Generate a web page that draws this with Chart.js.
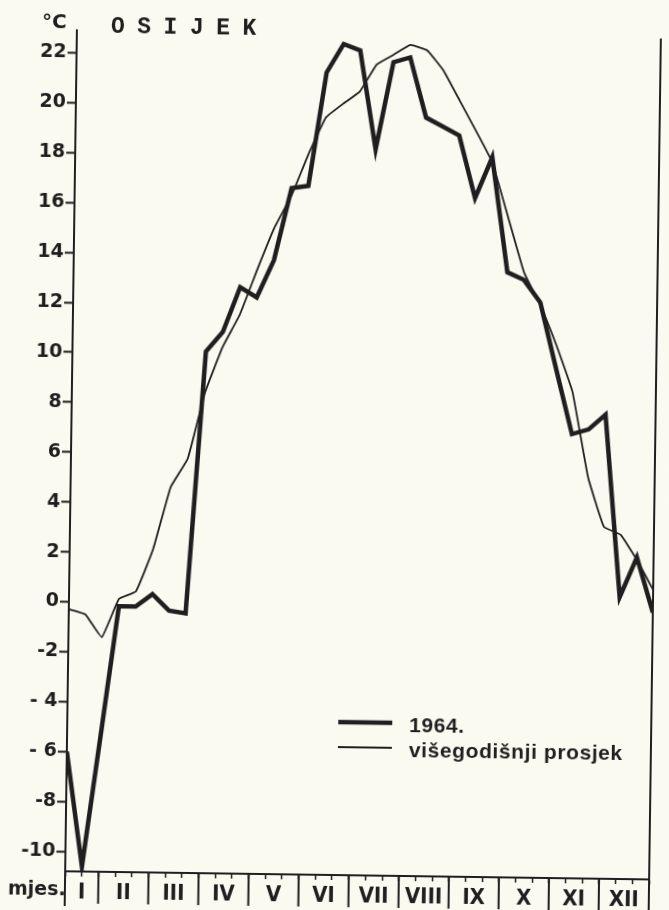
<!DOCTYPE html>
<html>
<head>
<meta charset="utf-8">
<script src="https://cdn.jsdelivr.net/npm/chart.js@4/dist/chart.umd.min.js"></script>
<style>
  html, body { margin: 0; padding: 0; background: #fafaf1; overflow: hidden; }
  #wrap { width: 669px; height: 910px; transform: rotate(0.8deg); }
</style>
</head>
<body>
<div id="wrap"><canvas id="osijek"></canvas></div>
<script>
// dekade: 1 = kraj 1. dekade sijecnja ... 36 = kraj prosinca
var dekade = [1, 2, 3, 4, 5, 6, 7, 8, 9, 10, 11, 12, 13, 14, 15, 16, 17, 18,
              19, 20, 21, 22, 23, 24, 25, 26, 27, 28, 29, 30, 31, 32, 33, 34, 35, 36];

// srednja dekadna temperatura 1964.
var temp1964 = [-6.0, -10.6, -5.4, -0.15, -0.15, 0.35, -0.3, -0.4, 10.1, 10.9, 12.7, 12.3,
                13.8, 16.7, 16.8, 21.35, 22.5, 22.25, 18.3, 21.8, 22.0, 19.6, 19.25, 18.9,
                16.4, 18.05, 13.45, 13.15, 12.25, 9.6, 7.0, 7.2, 7.8, 0.5, 2.1, -0.1];

// visegodisnji prosjek
var prosjek = [-0.3, -0.5, -1.4, 0.15, 0.45, 2.15, 4.65, 5.8, 8.5, 10.3, 11.6, 13.4,
               15.1, 16.4, 18.1, 19.55, 20.1, 20.6, 21.7, 22.1, 22.5, 22.3, 21.5, 20.3,
               19.1, 17.85, 15.65, 13.45, 12.15, 10.55, 8.7, 5.3, 3.3, 3.0, 2.0, 0.8];

var mjeseci = ['I', 'II', 'III', 'IV', 'V', 'VI', 'VII', 'VIII', 'IX', 'X', 'XI', 'XII'];
var mjesecPoz = [2, 4.5, 7.5, 10.5, 13.5, 16.5, 19.5, 22.5, 25.5, 28.5, 31.5, 34.5];

var yTicks = [-10, -8, -6, -4, -2, 0, 2, 4, 6, 8, 10, 12, 14, 16, 18, 20, 22];
var yLabels = ['-10', '-8', '- 6', '- 4', '-2', '0', '2', '4', '6', '8', '10',
               '12', '14', '16', '18', '20', '22'];

var tinta = '#1f1f1f';
var papir = '#fafaf1';

var crtez = {
    id: 'crtez',
    beforeDraw: function (chart) {
        var ctx = chart.ctx;
        ctx.save();
        ctx.fillStyle = papir;
        ctx.fillRect(0, 0, chart.width, chart.height);
        ctx.restore();
    },
    afterDraw: function (chart) {
        var ctx = chart.ctx;
        var a = chart.chartArea;
        var x = chart.scales.x;
        ctx.save();
        ctx.strokeStyle = tinta;
        ctx.fillStyle = tinta;

        // okvir desno i produzetak osi dolje
        ctx.lineWidth = 2;
        ctx.beginPath();
        ctx.moveTo(a.right, a.top);
        ctx.lineTo(a.right, a.bottom + 35);
        ctx.moveTo(a.left, a.bottom);
        ctx.lineTo(a.left, a.bottom + 35);
        for (var m = 1; m < 12; m++) {
            var px = x.getPixelForValue(m * 3);
            ctx.moveTo(px, a.bottom);
            ctx.lineTo(px, a.bottom + 32);
        }
        ctx.stroke();

        // natpisi
        ctx.textBaseline = 'alphabetic';
        ctx.font = 'bold 20px "DejaVu Sans", sans-serif';
        ctx.fillText('°C', 36, 32);

        ctx.font = 'bold 23px "Liberation Mono", monospace';
        ctx.letterSpacing = '12.5px';
        ctx.fillText('OSIJEK', 105, 36);
        ctx.letterSpacing = '0px';

        ctx.font = 'bold 19px "DejaVu Sans", sans-serif';
        ctx.fillText('mjes.', 14, 899);

        // legenda
        var ds = chart.data.datasets;
        var lx = 342, ly = [722, 747];
        ctx.font = 'bold 21px "Liberation Sans", sans-serif';
        ctx.letterSpacing = '0.6px';
        for (var i = 0; i < ds.length; i++) {
            ctx.lineWidth = ds[i].borderWidth;
            ctx.beginPath();
            ctx.moveTo(lx, ly[i]);
            ctx.lineTo(lx + 54, ly[i]);
            ctx.stroke();
            ctx.fillText(ds[i].label, lx + 71, ly[i] + 9);
        }
        ctx.restore();
    }
};

new Chart(document.getElementById('osijek'), {
    type: 'line',
    data: {
        datasets: [
            {
                label: '1964.',
                data: dekade.map(function (d, i) { return { x: d, y: temp1964[i] }; }),
                borderColor: tinta,
                borderWidth: 4.5,
                pointRadius: 0,
                tension: 0
            },
            {
                label: 'višegodišnji prosjek',
                data: dekade.map(function (d, i) { return { x: d, y: prosjek[i] }; }),
                borderColor: tinta,
                borderWidth: 1.8,
                pointRadius: 0,
                tension: 0.1
            }
        ]
    },
    options: {
        responsive: true,
        maintainAspectRatio: false,
        animation: false,
        layout: { padding: { top: 34, right: 14, left: 0, bottom: 0 } },
        plugins: {
            legend: { display: false },
            tooltip: { enabled: false }
        },
        scales: {
            x: {
                type: 'linear',
                min: 1,
                max: 36,
                afterBuildTicks: function (scale) {
                    var v = dekade.concat(mjesecPoz.filter(function (p) { return dekade.indexOf(p) < 0; }));
                    v.sort(function (p, q) { return p - q; });
                    scale.ticks = v.map(function (p) { return { value: p }; });
                },
                afterFit: function (scale) { scale.height = 35; },
                grid: {
                    drawOnChartArea: false,
                    tickLength: 5,
                    tickWidth: 1.5,
                    tickColor: function (c) {
                        return Number.isInteger(c.tick.value) ? tinta : 'rgba(0,0,0,0)';
                    }
                },
                border: { color: tinta, width: 2 },
                ticks: {
                    autoSkip: false,
                    maxRotation: 0,
                    minRotation: 0,
                    padding: 3,
                    color: tinta,
                    font: { family: '"Liberation Sans Narrow", "DejaVu Sans Condensed", sans-serif', size: 22, weight: 'bold' },
                    callback: function (value) {
                        var i = mjesecPoz.indexOf(value);
                        return i >= 0 ? mjeseci[i] : '';
                    }
                }
            },
            y: {
                min: -10.8,
                max: 22.9,
                afterBuildTicks: function (scale) {
                    scale.ticks = yTicks.map(function (v) { return { value: v }; });
                },
                afterFit: function (scale) { scale.width = 71; },
                grid: {
                    drawOnChartArea: false,
                    tickLength: 9,
                    tickWidth: 2,
                    tickColor: tinta
                },
                border: { color: tinta, width: 2 },
                ticks: {
                    padding: 1,
                    color: tinta,
                    font: { family: '"DejaVu Sans", sans-serif', size: 19, weight: 'bold' },
                    callback: function (value) {
                        var i = yTicks.indexOf(value);
                        return i >= 0 ? yLabels[i] : '';
                    }
                }
            }
        }
    },
    plugins: [crtez]
});
</script>
</body>
</html>
